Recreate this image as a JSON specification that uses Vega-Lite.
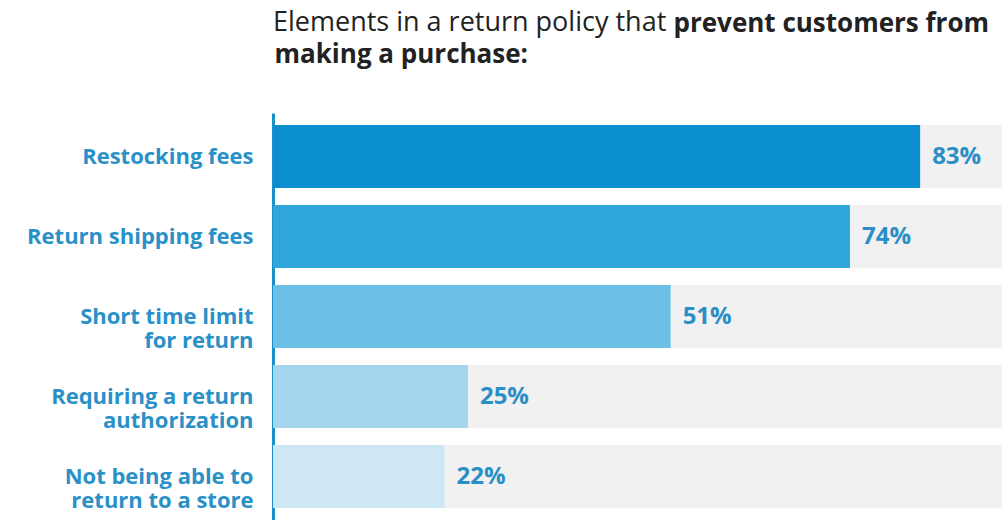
{
  "$schema": "https://vega.github.io/schema/vega-lite/v6.json",
  "width": 729,
  "height": 407,
  "autosize": "none",
  "padding": {"left": 273, "top": 113, "right": 0, "bottom": 0},
  "background": "white",
  "config": {"view": {"stroke": null}, "font": "Open Sans"},
  "title": {
    "text": "Elements in a return policy that",
    "anchor": "start",
    "frame": "group",
    "fontWeight": "normal",
    "fontSize": 27,
    "color": "#222222",
    "font": "Open Sans",
    "offset": 0,
    "dy": 27
  },
  "data": {
    "values": [
      {"factor": "Restocking fees", "pct": 0.83, "full": 1},
      {"factor": "Return shipping fees", "pct": 0.74, "full": 1},
      {"factor": "Short time limit for return", "pct": 0.51, "full": 1},
      {"factor": "Requiring a return authorization", "pct": 0.25, "full": 1},
      {"factor": "Not being able to return to a store", "pct": 0.22, "full": 1}
    ]
  },
  "encoding": {
    "y": {
      "field": "factor",
      "type": "nominal",
      "sort": null,
      "scale": {"paddingInner": 0.2125, "paddingOuter": 0.15},
      "axis": {
        "title": "making a purchase:",
        "titleAngle": 0,
        "titleX": 1,
        "titleY": -51,
        "titleAlign": "left",
        "titleBaseline": "alphabetic",
        "titleFont": "Open Sans",
        "titleFontWeight": "bold",
        "titleFontSize": 26,
        "titleColor": "#222222",
        "domainColor": "#1b8fca",
        "domainWidth": 3,
        "ticks": false,
        "grid": false,
        "labelPadding": 20,
        "labelFont": "Open Sans",
        "labelFontSize": 22,
        "labelFontWeight": "bold",
        "labelColor": "#2a90c8",
        "labelAlign": "right",
        "labelBaseline": "middle",
        "labelLineHeight": 24,
        "labelLimit": 300,
        "labelExpr": "datum.value == 'Short time limit for return' ? ['Short time limit', 'for return'] : datum.value == 'Requiring a return authorization' ? ['Requiring a return', 'authorization'] : datum.value == 'Not being able to return to a store' ? ['Not being able to', 'return to a store'] : datum.value"
      }
    }
  },
  "layer": [
    {
      "mark": {"type": "bar", "color": "#f1f1f1", "clip": true},
      "encoding": {
        "x": {
          "field": "full",
          "type": "quantitative",
          "scale": {"domain": [0, 0.935], "nice": false},
          "axis": {
            "orient": "top",
            "domain": false,
            "ticks": false,
            "labels": false,
            "grid": false,
            "title": "prevent customers from",
            "titleX": 400,
            "titleY": -82,
            "titleAlign": "left",
            "titleAnchor": "start",
            "titleBaseline": "alphabetic",
            "titleFont": "Open Sans",
            "titleFontWeight": "bold",
            "titleFontSize": 26,
            "titleColor": "#222222"
          }
        }
      }
    },
    {
      "mark": {"type": "bar"},
      "encoding": {
        "x": {"field": "pct", "type": "quantitative"},
        "color": {
          "field": "factor",
          "type": "nominal",
          "scale": {
            "domain": ["Restocking fees", "Return shipping fees", "Short time limit for return", "Requiring a return authorization", "Not being able to return to a store"],
            "range": ["#0b8ed0", "#2ea6dc", "#6cc0e6", "#a5d6ee", "#cde8f4"]
          },
          "legend": null
        }
      }
    },
    {
      "mark": {"type": "text", "align": "left", "baseline": "middle", "dx": 12, "fontSize": 24, "fontWeight": "bold", "font": "Open Sans", "color": "#2a8fc6"},
      "encoding": {
        "x": {"field": "pct", "type": "quantitative"},
        "text": {"field": "pct", "type": "quantitative", "format": ".0%"}
      }
    }
  ]
}
